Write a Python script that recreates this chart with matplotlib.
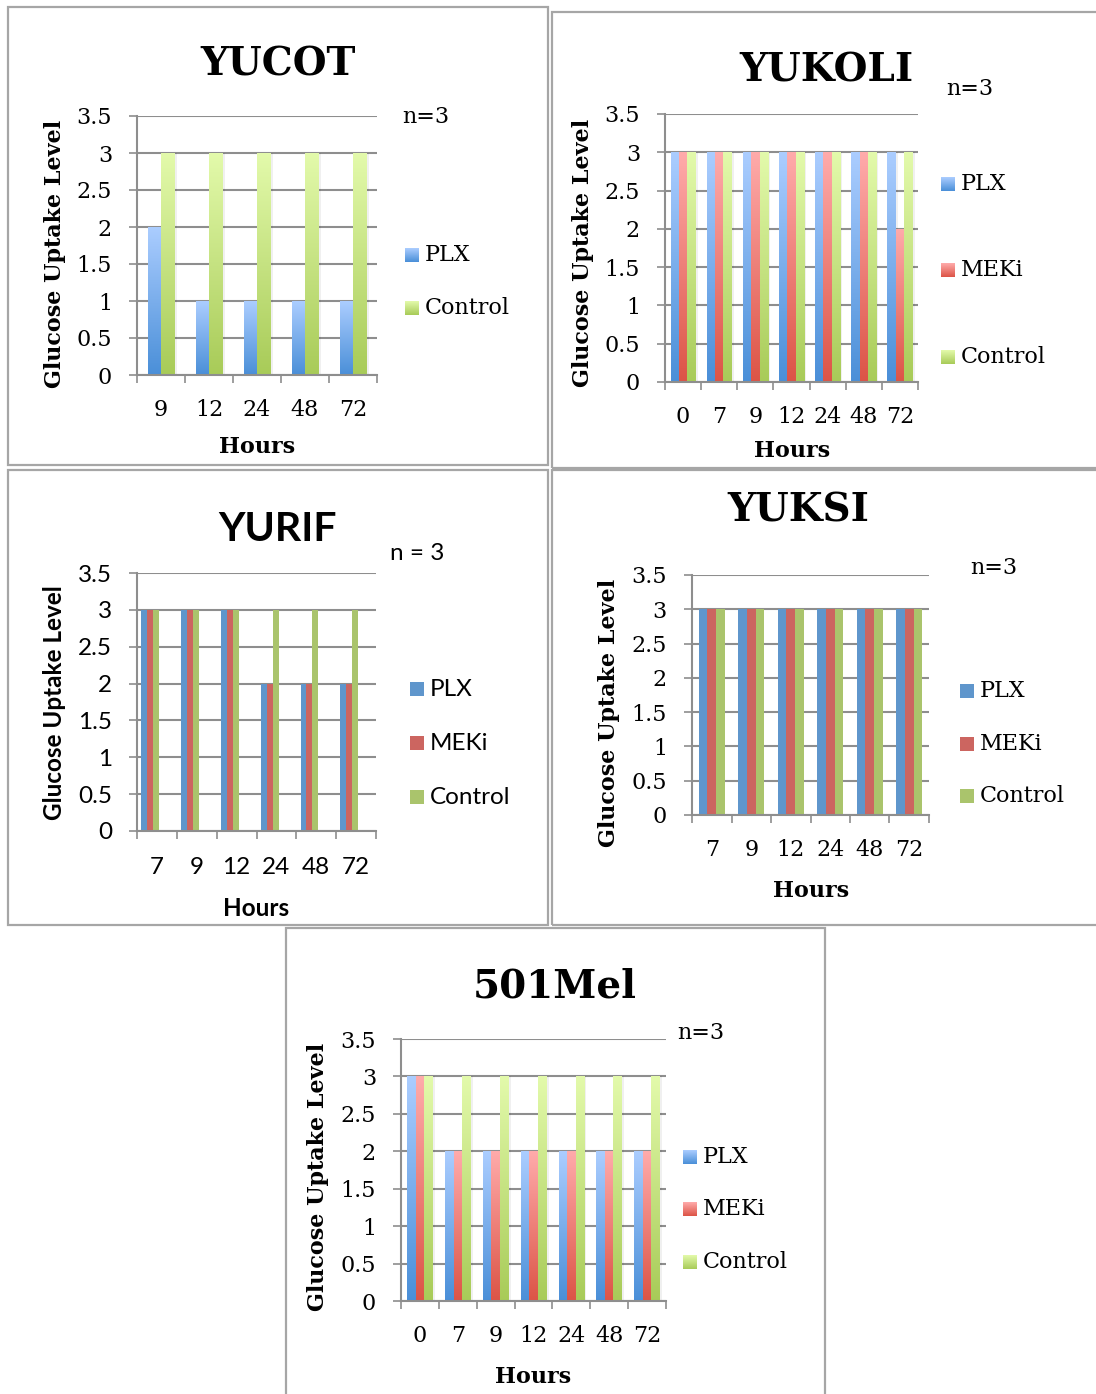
import numpy as np
import matplotlib
matplotlib.use('Agg')
import matplotlib.pyplot as plt
from matplotlib.colors import LinearSegmentedColormap
from matplotlib.patches import Rectangle
from matplotlib.transforms import blended_transform_factory

W, H = 1096, 1394

# ---------------- data ----------------
yucot_hours = ['9', '12', '24', '48', '72']
yucot_plx = [2, 1, 1, 1, 1]
yucot_control = [3, 3, 3, 3, 3]

yukoli_hours = ['0', '7', '9', '12', '24', '48', '72']
yukoli_plx = [3, 3, 3, 3, 3, 3, 3]
yukoli_meki = [3, 3, 3, 3, 3, 3, 2]
yukoli_control = [3, 3, 3, 3, 3, 3, 3]

yurif_hours = ['7', '9', '12', '24', '48', '72']
yurif_plx = [3, 3, 3, 2, 2, 2]
yurif_meki = [3, 3, 3, 2, 2, 2]
yurif_control = [3, 3, 3, 3, 3, 3]

yuksi_hours = ['7', '9', '12', '24', '48', '72']
yuksi_plx = [3, 3, 3, 3, 3, 3]
yuksi_meki = [3, 3, 3, 3, 3, 3]
yuksi_control = [3, 3, 3, 3, 3, 3]

mel_hours = ['0', '7', '9', '12', '24', '48', '72']
mel_plx = [3, 2, 2, 2, 2, 2, 2]
mel_meki = [3, 2, 2, 2, 2, 2, 2]
mel_control = [3, 3, 3, 3, 3, 3, 3]

y_ticks = [0, 0.5, 1, 1.5, 2, 2.5, 3, 3.5]
y_ticklabels = ['0', '0.5', '1', '1.5', '2', '2.5', '3', '3.5']

# ---------------- styles ----------------
GRAD = {
    'PLX': ('#4a8fd8', '#abcdff'),
    'MEKi': ('#dc5446', '#ffabab'),
    'Control': ('#a8cb58', '#e3faab'),
}
FLAT = {'PLX': '#5f96cc', 'MEKi': '#cc6560', 'Control': '#aac46c'}
GRID = '#8e8e8e'
FRAME = '#a6a6a6'
SERIF = 'DejaVu Serif'
SANS = 'Lato'

fig = plt.figure(figsize=(W / 100, H / 100), dpi=100)


def fx(x):
    return x / W


def fy(y):
    return 1 - y / H


def ftext(x, y, s, **kw):
    fig.text(fx(x), fy(y), s, **kw)


def panel(frame, box, title, title_xy, ntext, n_xy, hours, series, gradient,
          bar_frac, family, legend_x, legend_ys, ylabel_xy, xtick_y, xlabel_xy,
          title_size=28, fs=16, shift=0.0):
    # panel frame
    fx0, fy0, fx1, fy1 = frame
    fig.patches.append(Rectangle((fx(fx0), fy(fy1)), fx(fx1 - fx0), (fy1 - fy0) / H,
                                 transform=fig.transFigure, fill=False,
                                 edgecolor=FRAME, lw=1.6, zorder=0))
    l, t, r, b = box
    ax = fig.add_axes([fx(l), fy(b), fx(r - l), (b - t) / H])
    n = len(hours)
    ns = len(series)
    x = np.arange(n)
    for i, (name, vals) in enumerate(series):
        off = (i - (ns - 1) / 2) * bar_frac + shift
        if gradient:
            cmap = LinearSegmentedColormap.from_list(name, GRAD[name])
            # soft shadow
            ax.bar(x + off + 0.06, vals, width=bar_frac, color='#000000', alpha=0.06,
                   zorder=1.5, linewidth=0)
            bars = ax.bar(x + off, vals, width=bar_frac, color='none', zorder=2,
                          linewidth=0)
            grad = np.linspace(0, 1, 256).reshape(-1, 1)
            for bar in bars:
                x0 = bar.get_x()
                w = bar.get_width()
                h = bar.get_height()
                im = ax.imshow(grad, extent=[x0, x0 + w, 0, h], origin='lower',
                               aspect='auto', cmap=cmap, zorder=2.5)
                im.set_clip_path(bar)
        else:
            ax.bar(x + off, vals, width=bar_frac, color=FLAT[name], zorder=2,
                   linewidth=0)
    ax.set_xlim(-0.5, n - 0.5)
    ax.set_ylim(0, 3.5)
    ax.set_yticks(y_ticks)
    ax.set_yticklabels(y_ticklabels, family=family, fontsize=fs)
    ax.yaxis.grid(True, color=GRID, lw=1.5, zorder=1)
    ax.set_axisbelow(True)
    ax.tick_params(axis='y', length=6, width=1.2, color=GRID, pad=12)
    ax.set_xticks(np.arange(-0.5, n, 1.0))
    ax.set_xticklabels([])
    ax.tick_params(axis='x', length=6, width=1.2, color=GRID)
    for sp in ('top', 'right'):
        ax.spines[sp].set_visible(False)
    for sp in ('left', 'bottom'):
        ax.spines[sp].set_color(GRID)
        ax.spines[sp].set_linewidth(1.5)
    tr = blended_transform_factory(ax.transData, fig.transFigure)
    for xi, lab in zip(x, hours):
        ax.text(xi, fy(xtick_y), lab, transform=tr, ha='center', va='center',
                family=family, fontsize=fs)
    # texts
    ftext(*title_xy, title, ha='center', va='center', family=family,
          fontsize=title_size, fontweight='bold')
    ftext(*n_xy, ntext, ha='left', va='center', family=family, fontsize=fs)
    ftext(*ylabel_xy, 'Glucose Uptake Level', ha='center', va='center',
          rotation=90, family=family, fontsize=fs, fontweight='bold')
    ftext(*xlabel_xy, 'Hours', ha='center', va='center', family=family,
          fontsize=fs, fontweight='bold')
    # legend
    for (name, _), ly in zip(series, legend_ys):
        sq = 14
        if gradient:
            lax = fig.add_axes([fx(legend_x), fy(ly + sq / 2), sq / W, sq / H])
            lax.imshow(np.linspace(0, 1, 64).reshape(-1, 1), origin='lower',
                       aspect='auto',
                       cmap=LinearSegmentedColormap.from_list(name, GRAD[name]))
            lax.axis('off')
        else:
            fig.patches.append(Rectangle((fx(legend_x), fy(ly + sq / 2)), sq / W, sq / H,
                                         transform=fig.transFigure,
                                         facecolor=FLAT[name], edgecolor='none'))
        ftext(legend_x + sq + 6, ly, name, ha='left', va='center', family=family,
              fontsize=fs)
    return ax


panel((8, 7, 548, 465), (137, 116, 377, 375), 'YUCOT', (278, 65), 'n=3', (402, 117),
      yucot_hours, [('PLX', yucot_plx), ('Control', yucot_control)], True,
      0.28, SERIF, 405, [255, 308], (55, 254), 410, (257, 447))

panel((552, 12, 1100, 468), (665, 114, 918, 382), 'YUKOLI', (826, 70), 'n=3', (946, 89),
      yukoli_hours, [('PLX', yukoli_plx), ('MEKi', yukoli_meki),
                     ('Control', yukoli_control)], True,
      0.23, SERIF, 941, [184, 270, 357], (583, 253), 417, (792, 451))

panel((8, 470, 548, 925), (137, 573, 376, 831), 'YURIF', (278, 530), 'n = 3', (390, 553),
      yurif_hours, [('PLX', yurif_plx), ('MEKi', yurif_meki),
                    ('Control', yurif_control)], False,
      0.15, SANS, 410, [689, 743, 797], (55, 703), 867, (256, 908),
      title_size=29.5, fs=17.5, shift=-0.17)

panel((552, 470, 1100, 925), (692, 575, 929, 815), 'YUKSI', (798, 510), 'n=3', (970, 568),
      yuksi_hours, [('PLX', yuksi_plx), ('MEKi', yuksi_meki),
                    ('Control', yuksi_control)], False,
      0.22, SERIF, 960, [691, 744, 796], (609, 713), 850, (811, 891))

panel((286, 928, 825, 1400), (401, 1039, 666, 1301), '501Mel', (555, 987), 'n=3', (677, 1033),
      mel_hours, [('PLX', mel_plx), ('MEKi', mel_meki), ('Control', mel_control)], True,
      0.225, SERIF, 683, [1157, 1209, 1262], (318, 1177), 1336, (533, 1377))

fig.savefig('out.png', dpi=100)
